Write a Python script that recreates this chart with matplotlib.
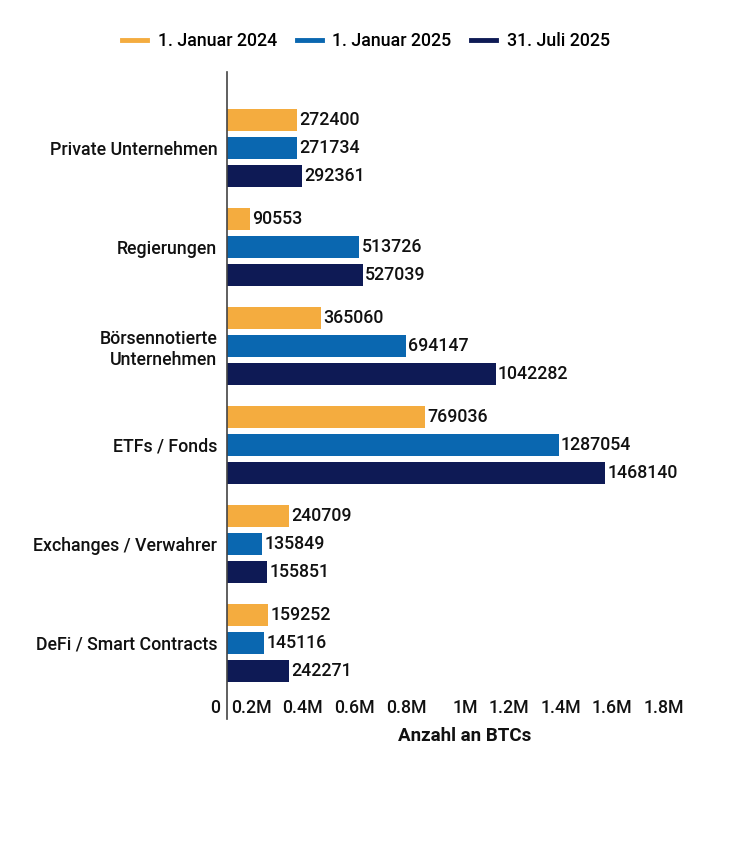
import matplotlib
matplotlib.use("Agg")
import matplotlib.pyplot as plt
import matplotlib.transforms as mtransforms
from matplotlib.lines import Line2D
import numpy as np

plt.rcParams['font.family'] = ['Roboto', 'DejaVu Sans']

categories = ["Private Unternehmen", "Regierungen", "Börsennotierte\nUnternehmen",
              "ETFs / Fonds", "Exchanges / Verwahrer", "DeFi / Smart Contracts"]
series_names = ["1. Januar 2024", "1. Januar 2025", "31. Juli 2025"]
jan2024 = [272400, 90553, 365060, 769036, 240709, 159252]
jan2025 = [271734, 513726, 694147, 1287054, 135849, 145116]
jul2025 = [292361, 527039, 1042282, 1468140, 155851, 242271]
colors = ["#F4AC3F", "#0A67B0", "#0E1A55"]
tick_vals = [0, 200000, 400000, 600000, 800000, 1000000, 1200000, 1400000, 1600000, 1800000]
tick_labels = ["0", "0.2M", "0.4M", "0.6M", "0.8M", "1M", "1.2M", "1.4M", "1.6M", "1.8M"]

FS = 12.8
W, H = 732, 842
fig = plt.figure(figsize=(W/100, H/100), dpi=100)
left, right, top, bottom = 227, 691, 72, 719
ax = fig.add_axes([left/W, 1 - bottom/H, (right-left)/W, (bottom-top)/H])

band_px = 99.0
bar_h = 22/band_px
step = 28/band_px
y = np.arange(len(categories))
series = [jan2024, jan2025, jul2025]
for k, (vals, c, name) in enumerate(zip(series, colors, series_names)):
    pos = y + (k-1)*step
    ax.barh(pos, vals, height=bar_h, color=c, label=name)
    for p, v in zip(pos, vals):
        ax.annotate(f"{v}", (v, p), xytext=(1.5, 0), textcoords='offset points',
                    va='center', ha='left', fontsize=FS,
                    fontweight='medium', color='#111111')

ax.set_xlim(0, 1800000)
ax.set_ylim(len(categories) - 1 + 0.768, -0.768)
ax.set_yticks(y)
ax.set_yticklabels(categories, fontsize=FS, fontweight='medium', color='#111111',
                   multialignment='right')
ax.tick_params(axis='y', length=0, pad=7)
ax.set_xticks(tick_vals)
ax.set_xticklabels(tick_labels, fontsize=FS, fontweight='medium', color='#111111')
ax.tick_params(axis='x', length=0, pad=-14.5)
off = mtransforms.ScaledTranslation(-7/100, 0, fig.dpi_scale_trans)
for lab in ax.get_xticklabels():
    lab.set_horizontalalignment('right')
    lab.set_transform(lab.get_transform() + off)

for s in ['top', 'right', 'bottom']:
    ax.spines[s].set_visible(False)
ax.spines['left'].set_color('#444444')
ax.spines['left'].set_linewidth(1.2)

fig.text(465/W, 1 - 736/H, "Anzahl an BTCs", ha='center', va='center',
         fontsize=13.5, fontweight='bold', color='#111111')

handles = [Line2D([0], [0], color=c, lw=3.5) for c in colors]
fig.legend(handles, series_names, loc='center', bbox_to_anchor=(366/W, 1 - 41/H),
           ncol=3, frameon=False, handlelength=1.4, columnspacing=1.1,
           handletextpad=0.6, prop={'weight': 'medium', 'size': FS})

fig.savefig("out.png", dpi=100, facecolor='white')
